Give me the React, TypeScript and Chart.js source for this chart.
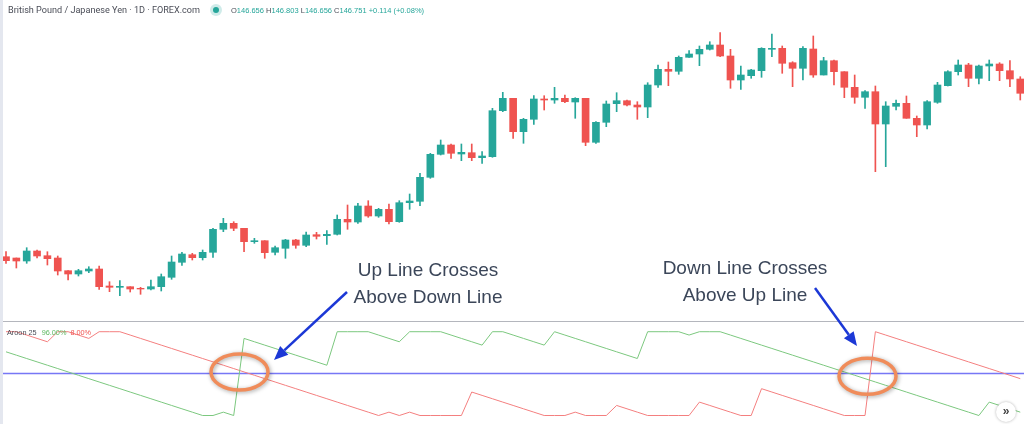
import React, { useEffect, useRef } from "react";
import { Chart, registerables } from "chart.js";

Chart.register(...registerables);

// ---- Data (GBP/JPY daily candles) ----
const opens = [
  134.33, 134.2, 133.9, 134.9, 134.43, 134.2, 132.93, 132.6, 132.9, 133.1,
  131.4, 131.27, 131.33, 131.17, 131.1, 131.33, 132.27, 133.77, 134.53, 134.23,
  134.77, 137.07, 137.67, 137.17, 135.83, 135.93, 134.77, 135.17, 136.0, 135.47,
  136.53, 136.43, 136.57, 138.07, 137.8, 139.4, 138.4, 139.07, 137.83, 139.73,
  139.87, 142.27, 144.57, 145.5, 144.6, 144.73, 144.23, 144.33, 148.93, 150.17,
  146.83, 148.07, 150.1, 150.0, 150.17, 149.8, 150.17, 145.77, 147.77, 149.63,
  149.93, 149.5, 149.3, 151.5, 153.07, 152.87, 154.27, 154.6, 155.07, 155.5,
  154.4, 152.0, 152.43, 152.93, 155.07, 155.17, 153.73, 153.17, 155.1, 152.5,
  153.93, 152.83, 151.27, 150.27, 150.83, 147.6, 149.37, 149.67, 148.17, 147.5,
  149.77, 151.43, 152.83, 153.5, 152.17, 153.4, 153.6, 152.93, 152.1,
];
const highs = [
  134.83, 134.2, 135.23, 135.0, 134.83, 134.4, 132.93, 133.07, 133.33, 133.4,
  131.83, 131.93, 131.33, 131.27, 132.0, 132.6, 134.4, 134.77, 134.67, 135.0,
  137.17, 138.17, 137.83, 137.17, 136.17, 135.93, 135.4, 136.07, 136.07, 136.8,
  136.77, 136.93, 138.5, 139.5, 139.67, 139.93, 139.17, 139.6, 139.93, 140.6,
  142.67, 144.67, 146.0, 145.6, 145.6, 145.6, 144.83, 149.17, 150.77, 150.17,
  148.17, 150.43, 150.43, 151.27, 150.5, 150.23, 150.17, 147.83, 149.9, 150.73,
  150.0, 149.83, 151.73, 153.5, 153.8, 154.4, 154.93, 155.4, 155.83, 156.73,
  155.07, 153.4, 153.07, 155.23, 156.6, 155.4, 153.83, 155.33, 156.4, 154.27,
  154.0, 152.83, 152.5, 150.93, 151.4, 149.83, 150.0, 150.4, 148.4, 149.93,
  151.77, 152.93, 154.0, 153.67, 153.5, 154.0, 153.73, 153.93, 152.33,
];
const lows = [
  133.67, 133.2, 133.67, 134.2, 133.5, 132.5, 132.0, 132.4, 132.73, 131.07,
  130.83, 130.43, 130.8, 130.57, 131.0, 130.9, 132.07, 133.47, 134.0, 134.0,
  134.27, 136.83, 136.93, 134.83, 135.67, 134.17, 134.5, 134.17, 135.17, 135.33,
  136.1, 135.57, 136.5, 137.07, 137.67, 138.27, 138.27, 137.6, 137.77, 139.07,
  139.43, 142.17, 144.5, 144.17, 143.93, 143.93, 143.67, 144.27, 148.83, 146.17,
  145.67, 147.57, 149.0, 149.67, 149.73, 148.17, 145.43, 145.67, 147.33, 148.83,
  149.4, 148.07, 148.23, 151.27, 151.43, 152.57, 154.27, 153.43, 155.0, 154.33,
  151.17, 151.07, 152.17, 152.27, 154.33, 152.67, 151.33, 152.0, 152.27, 152.5,
  151.5, 150.23, 149.67, 149.17, 142.83, 143.33, 149.0, 148.17, 146.33, 147.1,
  149.67, 151.4, 152.5, 151.33, 151.6, 151.93, 151.93, 151.33, 150.0,
];
const closes = [
  133.93, 133.9, 134.9, 134.4, 134.13, 132.9, 132.6, 132.93, 133.1, 131.33,
  131.27, 131.37, 131.1, 131.1, 131.33, 132.33, 133.8, 134.6, 134.23, 134.77,
  137.07, 137.67, 137.17, 135.83, 135.93, 134.73, 135.23, 136.0, 135.47, 136.5,
  136.37, 136.57, 138.07, 137.8, 139.4, 138.4, 139.07, 137.83, 139.73, 139.9,
  142.27, 144.57, 145.5, 144.67, 144.77, 144.23, 144.4, 148.93, 150.17, 146.83,
  148.07, 150.1, 150.0, 150.17, 149.83, 150.17, 145.77, 147.77, 149.6, 149.93,
  149.5, 149.3, 151.5, 153.07, 152.87, 154.27, 154.6, 155.07, 155.5, 154.4,
  152.0, 152.5, 153.0, 155.17, 155.17, 153.67, 153.17, 155.17, 152.5, 153.93,
  152.83, 151.27, 150.27, 150.83, 147.6, 149.4, 149.67, 148.17, 147.5, 149.83,
  151.5, 152.83, 153.5, 152.17, 153.4, 153.6, 152.93, 152.1, 150.67,
];

// Aroon (25) values, percent
const aroonUp = [
  76, 72, 68, 64, 60, 56, 52, 48, 44, 40, 36, 32, 28, 24, 20, 16, 12, 8, 4, 0,
  0, 4, 0, 92, 88, 84, 80, 76, 72, 68, 64, 60, 100, 100, 100, 100, 96, 92, 88, 100,
  100, 100, 100, 96, 92, 88, 84, 100, 100, 96, 92, 88, 84, 100, 96, 92, 88, 84, 80, 76,
  72, 68, 100, 100, 100, 100, 96, 100, 100, 100, 96, 92, 88, 84, 80, 76, 72, 68, 64, 60,
  56, 52, 48, 44, 40, 36, 32, 28, 24, 20, 16, 12, 8, 4, 0, 16, 12, 8, 4,
];
const aroonDown = [
  100, 100, 96, 92, 88, 100, 100, 96, 92, 100, 100, 100, 96, 92, 88, 84, 80, 76, 72, 68,
  64, 60, 56, 52, 48, 44, 40, 36, 32, 28, 24, 20, 16, 12, 8, 4, 0, 4, 0, 4,
  0, 0, 0, 0, 0, 28, 24, 20, 16, 12, 8, 4, 0, 0, 0, 4, 0, 0, 0, 12,
  8, 4, 0, 0, 0, 0, 0, 16, 12, 8, 4, 0, 0, 32, 28, 24, 20, 16, 12, 8,
  4, 0, 0, 0, 100, 96, 92, 88, 84, 80, 76, 72, 68, 64, 60, 56, 52, 48, 44,
];
const AROON_MID = 50;

const headerTitle = "British Pound / Japanese Yen · 1D · FOREX.com";
const ohlcLabels = ["O", "H", "L", "C"];
const ohlcValues = ["146.656", "146.803", "146.656", "146.751"];
const ohlcChange = "+0.114 (+0.08%)";
const aroonLabel = "Aroon 25";
const aroonUpText = "96.00%";
const aroonDownText = "8.00%";

// crossings marked on the indicator (bar index, aroon level)
const crossMarks = [
  { x: 22.56, y: 52 },
  { x: 83.24, y: 46.8 },
];

const UP = "#26a69a";
const DOWN = "#ef5350";

const X_MIN = -0.58;
const X_MAX = 98.36;

const annotationPlugin = {
  id: "annotations",
  beforeDatasetsDraw(chart: any) {
    const { ctx } = chart;
    ctx.save();
    ctx.strokeStyle = "#b4b6bd";
    ctx.lineWidth = 1;
    ctx.beginPath();
    ctx.moveTo(0, 321.5);
    ctx.lineTo(chart.width, 321.5);
    ctx.stroke();
    ctx.restore();
  },
  afterDatasetsDraw(chart: any) {
    const { ctx } = chart;
    const xs = chart.scales.x;
    const ys = chart.scales.y2;
    ctx.save();
    crossMarks.forEach((m) => {
      const cx = xs.getPixelForValue(m.x);
      const cy = ys.getPixelForValue(m.y);
      ctx.save();
      ctx.shadowColor = "rgba(0,0,0,0.35)";
      ctx.shadowBlur = 4;
      ctx.shadowOffsetX = 1;
      ctx.shadowOffsetY = 1;
      ctx.strokeStyle = "#f08c5a";
      ctx.lineWidth = 3.5;
      ctx.beginPath();
      ctx.ellipse(cx, cy, 28.5, 18, 0, 0, Math.PI * 2);
      ctx.stroke();
      ctx.restore();
    });
    const arrows = [
      { x1: 347, y1: 292, x2: 274, y2: 360 },
      { x1: 815, y1: 288, x2: 857, y2: 346 },
    ];
    arrows.forEach((a) => {
      const ang = Math.atan2(a.y2 - a.y1, a.x2 - a.x1);
      const headLen = 14;
      const headW = 6;
      const bx = a.x2 - headLen * Math.cos(ang);
      const by = a.y2 - headLen * Math.sin(ang);
      ctx.strokeStyle = "#1c38d6";
      ctx.fillStyle = "#1c38d6";
      ctx.lineWidth = 2.5;
      ctx.beginPath();
      ctx.moveTo(a.x1, a.y1);
      ctx.lineTo(bx, by);
      ctx.stroke();
      ctx.beginPath();
      ctx.moveTo(a.x2, a.y2);
      ctx.lineTo(bx + headW * Math.sin(ang), by - headW * Math.cos(ang));
      ctx.lineTo(bx - headW * Math.sin(ang), by + headW * Math.cos(ang));
      ctx.closePath();
      ctx.fill();
    });
    ctx.restore();
  },
};

export default function App() {
  const canvasRef = useRef<HTMLCanvasElement | null>(null);

  useEffect(() => {
    if (!canvasRef.current) return;
    const idx = opens.map((_, i) => i);
    const colors = idx.map((i) => (closes[i] >= opens[i] ? UP : DOWN));
    const chart = new Chart(canvasRef.current, {
      type: "bar",
      data: {
        datasets: [
          {
            type: "bar",
            label: "wicks",
            data: idx.map((i) => ({ x: i, y: [lows[i], highs[i]] })) as any,
            backgroundColor: colors,
            barThickness: 1,
            grouped: false,
            xAxisID: "x",
            yAxisID: "y",
            order: 4,
          } as any,
          {
            type: "bar",
            label: "bodies",
            data: idx.map((i) => ({ x: i, y: [opens[i], closes[i]] })) as any,
            backgroundColor: colors,
            barThickness: 7,
            grouped: false,
            xAxisID: "x",
            yAxisID: "y",
            order: 3,
          } as any,
          {
            type: "line",
            label: "mid",
            data: [
              { x: X_MIN, y: AROON_MID },
              { x: X_MAX, y: AROON_MID },
            ],
            borderColor: "rgba(95,95,245,0.85)",
            borderWidth: 1.5,
            pointRadius: 0,
            xAxisID: "x",
            yAxisID: "y2",
            order: 2,
          } as any,
          {
            type: "line",
            label: "Aroon Up",
            data: idx.map((i) => ({ x: i, y: aroonUp[i] })),
            borderColor: "#7cc87f",
            borderWidth: 1,
            pointRadius: 0,
            tension: 0,
            xAxisID: "x",
            yAxisID: "y2",
            order: 1,
          } as any,
          {
            type: "line",
            label: "Aroon Down",
            data: idx.map((i) => ({ x: i, y: aroonDown[i] })),
            borderColor: "#f47f7f",
            borderWidth: 1,
            pointRadius: 0,
            tension: 0,
            xAxisID: "x",
            yAxisID: "y2",
            order: 1,
          } as any,
        ],
      },
      options: {
        animation: false,
        responsive: false,
        maintainAspectRatio: false,
        devicePixelRatio: 1,
        layout: { padding: 0 },
        plugins: {
          legend: { display: false },
          tooltip: { enabled: false },
        },
        scales: {
          x: { type: "linear", min: X_MIN, max: X_MAX, offset: false, display: false },
          y: { type: "linear", min: 117.6, max: 160, display: false },
          y2: { type: "linear", min: -10.14, max: 495.83, display: false },
        },
      } as any,
      plugins: [annotationPlugin],
    });
    return () => chart.destroy();
  }, []);

  const annoText: React.CSSProperties = {
    position: "absolute",
    width: 240,
    textAlign: "center",
    fontFamily: "'Liberation Sans', Arial, sans-serif",
    fontSize: 19,
    lineHeight: "27px",
    color: "#3b4659",
    whiteSpace: "nowrap",
  };

  return (
    <div
      style={{
        position: "absolute",
        left: 0,
        top: 0,
        width: 1024,
        height: 424,
        background: "#ffffff",
        overflow: "hidden",
      }}
    >
      <canvas
        ref={canvasRef}
        width={1024}
        height={424}
        style={{ position: "absolute", left: 0, top: 0, width: 1024, height: 424 }}
      />
      <div
        style={{
          position: "absolute",
          left: 0,
          top: 0,
          width: 3,
          height: 424,
          background: "#e4e7ef",
        }}
      />
      <div
        style={{
          position: "absolute",
          left: 8,
          top: 4,
          fontFamily: "Roboto, sans-serif",
          fontSize: 9.1,
          lineHeight: "12px",
          color: "#4a4d57",
          whiteSpace: "nowrap",
        }}
      >
        {headerTitle}
      </div>
      <div
        style={{
          position: "absolute",
          left: 210,
          top: 4,
          width: 12,
          height: 12,
          borderRadius: "50%",
          background: "rgba(38,166,154,0.22)",
        }}
      />
      <div
        style={{
          position: "absolute",
          left: 213,
          top: 7,
          width: 6,
          height: 6,
          borderRadius: "50%",
          background: UP,
        }}
      />
      <div
        style={{
          position: "absolute",
          left: 231,
          top: 5,
          fontFamily: "'Liberation Sans', Arial, sans-serif",
          fontSize: 7.5,
          lineHeight: "12px",
          whiteSpace: "nowrap",
          color: UP,
        }}
      >
        {ohlcLabels.map((l, i) => (
          <span key={l}>
            <span style={{ color: "#4a4d57" }}>{l}</span>
            {ohlcValues[i]}{" "}
          </span>
        ))}
        <span>{ohlcChange}</span>
      </div>
      <div
        style={{
          position: "absolute",
          left: 7,
          top: 327,
          fontFamily: "'Liberation Sans', Arial, sans-serif",
          fontSize: 7.3,
          lineHeight: "12px",
          whiteSpace: "nowrap",
          color: "#4a4d57",
        }}
      >
        <span style={{ marginRight: 5 }}>{aroonLabel}</span>
        <span style={{ marginRight: 4, color: "#5cb860" }}>{aroonUpText}</span>
        <span style={{ color: "#ef5350" }}>{aroonDownText}</span>
      </div>
      <div style={{ ...annoText, left: 308, top: 256 }}>
        Up Line Crosses
        <br />
        Above Down Line
      </div>
      <div style={{ ...annoText, left: 625, top: 254 }}>
        Down Line Crosses
        <br />
        Above Up Line
      </div>
      <div
        style={{
          position: "absolute",
          left: 996,
          top: 402,
          width: 20,
          height: 20,
          borderRadius: "50%",
          background: "#ffffff",
          boxShadow: "0 0 3px rgba(0,0,0,0.3)",
          fontFamily: "'Liberation Sans', Arial, sans-serif",
          fontSize: 12,
          lineHeight: "19px",
          textAlign: "center",
          color: "#444",
          fontWeight: "bold",
        }}
      >
        »
      </div>
    </div>
  );
}
